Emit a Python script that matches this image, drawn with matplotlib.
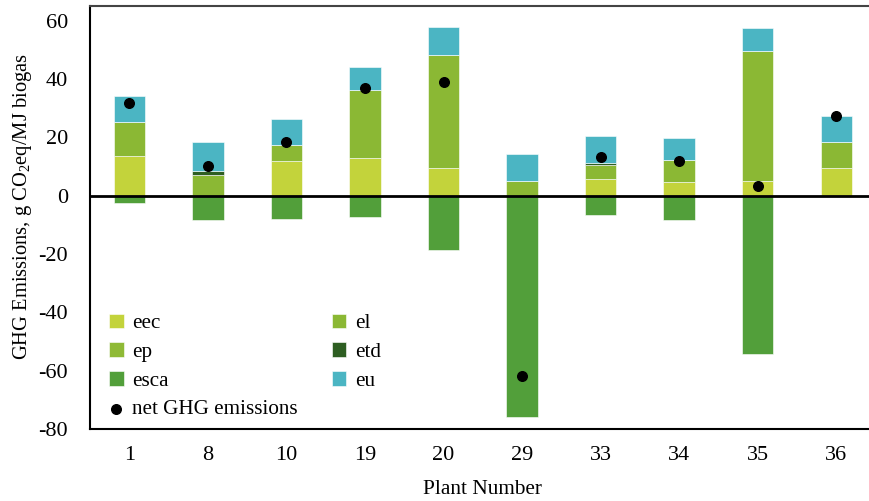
import matplotlib
matplotlib.use("Agg")
import matplotlib.pyplot as plt
import numpy as np

plants = ['1', '8', '10', '19', '20', '29', '33', '34', '35', '36']
eec = [13.5, 0.0, 12.0, 13.0, 9.3, 0.0, 5.8, 4.6, 5.0, 9.6]
el = [11.9, 7.0, 5.4, 23.3, 38.8, 5.0, 4.6, 7.6, 44.6, 8.7]
ep = [0.0, 0.0, 0.0, 0.0, 0.0, 0.0, 0.0, 0.0, 0.0, 0.0]
etd = [0.0, 1.6, 0.0, 0.0, 0.0, 0.0, 0.7, 0.0, 0.0, 0.0]
esca = [-2.6, -8.3, -8.1, -7.3, -18.8, -76.0, -6.8, -8.2, -54.2, 0.0]
eu = [8.9, 9.7, 9.0, 7.8, 9.7, 9.1, 9.2, 7.6, 7.7, 8.9]
net = [31.8, 10.0, 18.4, 36.9, 39.0, -62.0, 13.4, 11.7, 3.3, 27.4]

colors = {'eec': '#c3d33b', 'el': '#8bb834', 'ep': '#8fba36',
          'etd': '#2e5e22', 'esca': '#529f3a', 'eu': '#4bb5c3'}

plt.rcParams['font.family'] = ['Liberation Serif', 'DejaVu Serif']
plt.rcParams['mathtext.fontset'] = 'custom'
plt.rcParams['mathtext.rm'] = 'Liberation Serif'
plt.rcParams['mathtext.it'] = 'Liberation Serif:italic'
plt.rcParams['axes.unicode_minus'] = False

fig = plt.figure(figsize=(8.70, 5.01), dpi=100)
ax = fig.add_axes([90/870, 1-429/501, (875.6-90)/870, (429-6)/501])

x = np.arange(len(plants))
w = 0.4
bottom = np.zeros(len(plants))
handles = {}
for name, vals in [('eec', eec), ('el', el), ('ep', ep), ('etd', etd)]:
    v = np.array(vals)
    handles[name] = ax.bar(x, v, w, bottom=bottom, color=colors[name],
                           edgecolor='white', linewidth=0.4, label=name)
    bottom = bottom + v
handles['esca'] = ax.bar(x, esca, w, color=colors['esca'], edgecolor='white',
                         linewidth=0.4, label='esca')
handles['eu'] = ax.bar(x, eu, w, bottom=bottom, color=colors['eu'],
                       edgecolor='white', linewidth=0.4, label='eu')
ax.axhline(0, color='black', lw=2, zorder=3)
handles['net'] = ax.scatter(x, net, s=48, color='black', zorder=4,
                            label='net GHG emissions')

ax.set_xlim(-0.5, len(plants) - 0.5)
ax.set_ylim(-80, 65)
ax.set_yticks(range(-80, 61, 20))
ax.set_xticks(x)
ax.set_xticklabels(plants)
ax.tick_params(length=0, labelsize=16)
ax.tick_params(axis='x', pad=12)
ax.tick_params(axis='y', pad=16)
ax.spines['right'].set_visible(False)
for s in ['left', 'bottom', 'top']:
    ax.spines[s].set_linewidth(1.5)
ax.spines['top'].set_color('#444444')

ax.set_xlabel('Plant Number', fontsize=15.3, labelpad=11)
ax.set_ylabel('GHG Emissions, g CO$_2$eq/MJ biogas', fontsize=14.8,
              va='center')
ax.yaxis.set_label_coords(-0.0853, 0.526)

order = ['eec', 'ep', 'esca', 'net', 'el', 'etd', 'eu']
labs = ['eec', 'ep', 'esca', 'net GHG emissions', 'el', 'etd', 'eu']
leg = ax.legend([handles[k] for k in order], labs, ncol=2, frameon=False,
                loc='lower left', bbox_to_anchor=(0.0, -0.022), fontsize=15.2,
                handlelength=0.7, handleheight=0.7, handletextpad=0.4,
                columnspacing=1.6, labelspacing=0.42)

fig.savefig('out.png', dpi=100)
